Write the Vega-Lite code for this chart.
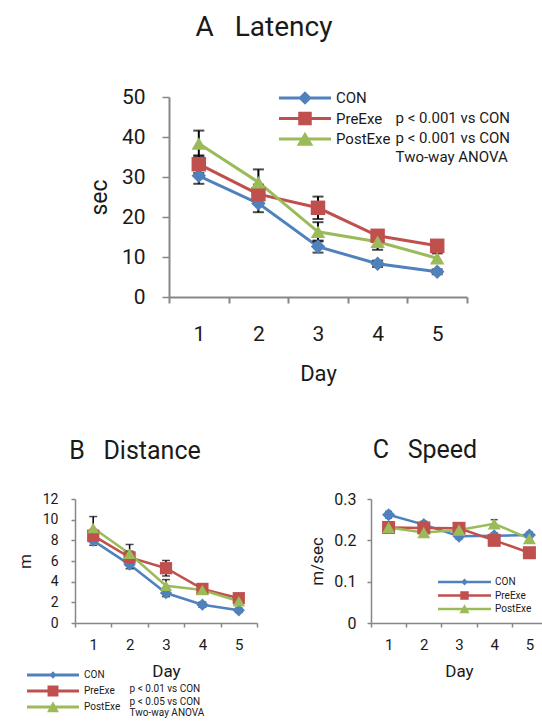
{
  "$schema": "https://vega.github.io/schema/vega-lite/v6.json",
  "padding": {"left": 16, "top": 14, "right": 0, "bottom": 0},
  "config": {
    "font": "Roboto",
    "view": {"stroke": null},
    "axis": {"grid": false, "domainColor": "#878787", "tickColor": "#878787", "labelColor": "#1a1a1a", "titleColor": "#1a1a1a", "titleFontWeight": "normal", "labelOverlap": false},
    "legend": {"labelColor": "#1a1a1a"},
    "title": {"color": "#1a1a1a"},
    "text": {"color": "#1a1a1a"}
  },
  "datasets": {
    "latency": [
      {"series": "CON", "day": "1", "v": 30.3, "err": 2.0},
      {"series": "CON", "day": "2", "v": 23.4, "err": 2.2},
      {"series": "CON", "day": "3", "v": 12.6, "err": 1.5},
      {"series": "CON", "day": "4", "v": 8.3, "err": 0.8},
      {"series": "CON", "day": "5", "v": 6.3, "err": 0.6},
      {"series": "PreExe", "day": "1", "v": 33.2, "err": 2.2},
      {"series": "PreExe", "day": "2", "v": 25.7, "err": 2.4},
      {"series": "PreExe", "day": "3", "v": 22.3, "err": 2.8},
      {"series": "PreExe", "day": "4", "v": 15.3, "err": 1.3},
      {"series": "PreExe", "day": "5", "v": 12.8, "err": 1.0},
      {"series": "PostExe", "day": "1", "v": 38.4, "err": 3.2},
      {"series": "PostExe", "day": "2", "v": 28.7, "err": 3.2},
      {"series": "PostExe", "day": "3", "v": 16.3, "err": 2.4},
      {"series": "PostExe", "day": "4", "v": 13.8, "err": 2.0},
      {"series": "PostExe", "day": "5", "v": 9.7, "err": 1.2}
    ],
    "latencyNotes": [
      {"day": "4", "y": 44.8, "t": "p < 0.001 vs CON"},
      {"day": "4", "y": 39.8, "t": "p < 0.001 vs CON"},
      {"day": "4", "y": 35, "t": "Two-way ANOVA"}
    ],
    "distance": [
      {"series": "CON", "day": "1", "v": 7.97, "err": 0.45},
      {"series": "CON", "day": "2", "v": 5.65, "err": 0.4},
      {"series": "CON", "day": "3", "v": 2.9, "err": 0.35},
      {"series": "CON", "day": "4", "v": 1.77, "err": 0.25},
      {"series": "CON", "day": "5", "v": 1.23, "err": 0.2},
      {"series": "PreExe", "day": "1", "v": 8.45, "err": 0.6},
      {"series": "PreExe", "day": "2", "v": 6.35, "err": 0.6},
      {"series": "PreExe", "day": "3", "v": 5.3, "err": 0.75},
      {"series": "PreExe", "day": "4", "v": 3.3, "err": 0.4},
      {"series": "PreExe", "day": "5", "v": 2.4, "err": 0.35},
      {"series": "PostExe", "day": "1", "v": 9.2, "err": 1.1},
      {"series": "PostExe", "day": "2", "v": 6.7, "err": 0.9},
      {"series": "PostExe", "day": "3", "v": 3.6, "err": 0.6},
      {"series": "PostExe", "day": "4", "v": 3.2, "err": 0.4},
      {"series": "PostExe", "day": "5", "v": 2.1, "err": 0.3}
    ],
    "distanceNotes": [
      {"day": "2", "y": -6.4, "t": "p < 0.01 vs CON"},
      {"day": "2", "y": -7.6, "t": "p < 0.05 vs CON"},
      {"day": "2", "y": -8.75, "t": "Two-way ANOVA"}
    ],
    "speed": [
      {"series": "CON", "day": "1", "v": 0.262, "err": 0.008},
      {"series": "CON", "day": "2", "v": 0.238, "err": 0.008},
      {"series": "CON", "day": "3", "v": 0.21, "err": 0.007},
      {"series": "CON", "day": "4", "v": 0.211, "err": 0.007},
      {"series": "CON", "day": "5", "v": 0.213, "err": 0.007},
      {"series": "PreExe", "day": "1", "v": 0.231, "err": 0.008},
      {"series": "PreExe", "day": "2", "v": 0.23, "err": 0.008},
      {"series": "PreExe", "day": "3", "v": 0.229, "err": 0.008},
      {"series": "PreExe", "day": "4", "v": 0.2, "err": 0.008},
      {"series": "PreExe", "day": "5", "v": 0.17, "err": 0.008},
      {"series": "PostExe", "day": "1", "v": 0.231, "err": 0.008},
      {"series": "PostExe", "day": "2", "v": 0.219, "err": 0.007},
      {"series": "PostExe", "day": "3", "v": 0.225, "err": 0.007},
      {"series": "PostExe", "day": "4", "v": 0.24, "err": 0.01},
      {"series": "PostExe", "day": "5", "v": 0.204, "err": 0.007}
    ]
  },
  "resolve": {"scale": {"color": "independent", "shape": "independent"}, "legend": {"color": "independent"}},
  "spacing": 54,
  "vconcat": [
    {
      "hconcat": [
        {"width": 84, "height": 10, "data": {"values": []}, "mark": {"type": "text", "text": ""}, "encoding": {}},
        {
          "width": 298, "height": 200,
          "title": {"text": "A\u00a0\u00a0\u00a0Latency", "fontSize": 28, "fontWeight": "normal", "frame": "group", "anchor": "middle", "baseline": "alphabetic", "offset": 22, "dx": -54},
          "data": {"name": "latency"},
          "encoding": {
            "x": {"field": "day", "type": "ordinal", "title": "Day", "scale": {"type": "band", "paddingInner": 0, "paddingOuter": 0},
              "axis": {"labelAngle": 0, "tickBand": "extent", "domainWidth": 2, "tickWidth": 2, "tickSize": 6, "labelFontSize": 21, "labelPadding": 20, "titleFontSize": 22, "titlePadding": 19}},
            "y": {"field": "v", "type": "quantitative", "title": "sec", "scale": {"domain": [0, 50]},
              "axis": {"values": [0, 10, 20, 30, 40, 50], "labelOverlap": false, "domainWidth": 2, "tickWidth": 1.5, "tickSize": 7, "labelFontSize": 21, "labelPadding": 17, "titleFontSize": 23, "titlePadding": 10}}
          },
          "layer": [
            {
              "mark": {"type": "line", "strokeWidth": 3},
              "encoding": {
                "color": {"field": "series", "type": "nominal", "scale": {"domain": ["CON", "PreExe", "PostExe"], "range": ["#4f81bd", "#c0504d", "#9bbb59"]},
                  "legend": {"orient": "none", "legendX": 110, "legendY": -7, "title": null, "symbolSize": 2704, "clipHeight": 16, "labelFontSize": 15, "labelOffset": 5, "rowPadding": 4.5,
                    "encoding": {"symbols": {
                      "shape": {"value": {"expr": "datum.value === 'CON' ? 'M-1,-0.06H1V0.06H-1Z M0,-0.26L0.26,0L0,0.26L-0.26,0Z' : datum.value === 'PreExe' ? 'M-1,-0.06H1V0.06H-1Z M-0.26,-0.26H0.26V0.26H-0.26Z' : 'M-1,-0.06H1V0.06H-1Z M0,-0.28L0.32,0.26L-0.32,0.26Z'"}},
                      "size": {"value": 2704},
                      "strokeWidth": {"value": 0}, "opacity": {"value": 1}, "fillOpacity": {"value": 1}}}}}
              }
            },
            {
              "mark": {"type": "errorbar", "color": "black", "thickness": 2, "ticks": {"size": 11, "thickness": 2}},
              "encoding": {"yError": {"field": "err"}}
            },
            {
              "mark": {"type": "point", "filled": true, "opacity": 1, "size": 210},
              "encoding": {
                "color": {"field": "series", "type": "nominal",
                  "legend": {"orient": "none", "legendX": 110, "legendY": -7, "title": null, "symbolSize": 2704, "clipHeight": 16, "labelFontSize": 15, "labelOffset": 5, "rowPadding": 4.5,
                    "encoding": {"symbols": {
                      "shape": {"value": {"expr": "datum.value === 'CON' ? 'M-1,-0.06H1V0.06H-1Z M0,-0.26L0.26,0L0,0.26L-0.26,0Z' : datum.value === 'PreExe' ? 'M-1,-0.06H1V0.06H-1Z M-0.26,-0.26H0.26V0.26H-0.26Z' : 'M-1,-0.06H1V0.06H-1Z M0,-0.28L0.32,0.26L-0.32,0.26Z'"}},
                      "size": {"value": 2704},
                      "strokeWidth": {"value": 0}, "opacity": {"value": 1}, "fillOpacity": {"value": 1}}}}},
                "shape": {"field": "series", "type": "nominal", "scale": {"range": ["diamond", "triangle-up", "square"]}, "legend": null}
              }
            },
            {
              "data": {"name": "latencyNotes"},
              "mark": {"type": "text", "align": "left", "baseline": "middle", "dx": 18, "fontSize": 15},
              "encoding": {
                "y": {"field": "y", "type": "quantitative", "title": "sec"},
                "text": {"field": "t"}
              }
            }
          ]
        }
      ],
      "spacing": 10,
      "bounds": "flush",
      "resolve": {"scale": {"color": "independent", "shape": "independent"}, "legend": {"color": "independent"}}
    },
    {
      "hconcat": [
        {
          "width": 182, "height": 124,
          "title": {"text": "B\u00a0\u00a0\u00a0Distance", "fontSize": 25, "fontWeight": "normal", "frame": "group", "anchor": "middle", "baseline": "alphabetic", "offset": 8, "dx": -31},
          "data": {"name": "distance"},
          "encoding": {
            "x": {"field": "day", "type": "ordinal", "title": "Day", "scale": {"type": "band", "paddingInner": 0, "paddingOuter": 0},
              "axis": {"labelAngle": 0, "tickBand": "extent", "domainWidth": 1.5, "tickWidth": 1.5, "tickSize": 4, "labelFontSize": 15, "labelPadding": 10, "titleFontSize": 17, "titlePadding": 11}},
            "y": {"field": "v", "type": "quantitative", "title": "m", "scale": {"domain": [0, 12]},
              "axis": {"values": [0, 2, 4, 6, 8, 10, 12], "labelOverlap": false, "domainWidth": 1.5, "tickWidth": 1.5, "tickSize": 4, "labelFontSize": 14, "labelPadding": 13, "titleFontSize": 17, "titlePadding": 8}}
          },
          "layer": [
            {
              "mark": {"type": "line", "strokeWidth": 2.5},
              "encoding": {
                "color": {"field": "series", "type": "nominal", "scale": {"domain": ["CON", "PreExe", "PostExe"], "range": ["#4f81bd", "#c0504d", "#9bbb59"]},
                  "legend": {"orient": "none", "legendX": -48, "legendY": 169.5, "title": null, "symbolSize": 2704, "clipHeight": 13, "labelFontSize": 10, "labelOffset": 5, "rowPadding": 3,
                    "encoding": {"symbols": {
                      "shape": {"value": {"expr": "datum.value === 'CON' ? 'M-1,-0.055H1V0.055H-1Z M0,-0.14L0.14,0L0,0.14L-0.14,0Z' : datum.value === 'PreExe' ? 'M-1,-0.055H1V0.055H-1Z M-0.21,-0.21H0.21V0.21H-0.21Z' : 'M-1,-0.055H1V0.055H-1Z M0,-0.22L0.23,0.2L-0.23,0.2Z'"}},
                      "size": {"value": 2704},
                      "strokeWidth": {"value": 0}, "opacity": {"value": 1}, "fillOpacity": {"value": 1}}}}}
              }
            },
            {
              "mark": {"type": "errorbar", "color": "black", "thickness": 1.5, "ticks": {"size": 8, "thickness": 1.5}},
              "encoding": {"yError": {"field": "err"}}
            },
            {
              "mark": {"type": "point", "filled": true, "opacity": 1, "size": 150},
              "encoding": {
                "color": {"field": "series", "type": "nominal",
                  "legend": {"orient": "none", "legendX": -48, "legendY": 169.5, "title": null, "symbolSize": 2704, "clipHeight": 13, "labelFontSize": 10, "labelOffset": 5, "rowPadding": 3,
                    "encoding": {"symbols": {
                      "shape": {"value": {"expr": "datum.value === 'CON' ? 'M-1,-0.055H1V0.055H-1Z M0,-0.14L0.14,0L0,0.14L-0.14,0Z' : datum.value === 'PreExe' ? 'M-1,-0.055H1V0.055H-1Z M-0.21,-0.21H0.21V0.21H-0.21Z' : 'M-1,-0.055H1V0.055H-1Z M0,-0.22L0.23,0.2L-0.23,0.2Z'"}},
                      "size": {"value": 2704},
                      "strokeWidth": {"value": 0}, "opacity": {"value": 1}, "fillOpacity": {"value": 1}}}}},
                "shape": {"field": "series", "type": "nominal", "scale": {"range": ["diamond", "triangle-up", "square"]}, "legend": null}
              }
            },
            {
              "data": {"name": "distanceNotes"},
              "mark": {"type": "text", "align": "left", "baseline": "middle", "dx": 0, "fontSize": 10},
              "encoding": {
                "y": {"field": "y", "type": "quantitative", "title": "m"},
                "text": {"field": "t"}
              }
            }
          ]
        },
        {
          "width": 176, "height": 124,
          "title": {"text": "C\u00a0\u00a0\u00a0Speed", "fontSize": 25, "fontWeight": "normal", "frame": "group", "anchor": "middle", "baseline": "alphabetic", "offset": 8, "dx": -34},
          "data": {"name": "speed"},
          "encoding": {
            "x": {"field": "day", "type": "ordinal", "title": "Day", "scale": {"type": "band", "paddingInner": 0, "paddingOuter": 0},
              "axis": {"labelAngle": 0, "tickBand": "extent", "domainWidth": 1.5, "tickWidth": 1.5, "tickSize": 4, "labelFontSize": 15, "labelPadding": 10, "titleFontSize": 17, "titlePadding": 11}},
            "y": {"field": "v", "type": "quantitative", "title": "m/sec", "scale": {"domain": [0, 0.3]},
              "axis": {"values": [0, 0.1, 0.2, 0.3], "labelOverlap": false, "format": "~g", "domainWidth": 1.5, "tickWidth": 1.5, "tickSize": 4, "labelFontSize": 16, "labelPadding": 11, "titleFontSize": 17, "titlePadding": 7}}
          },
          "layer": [
            {
              "mark": {"type": "line", "strokeWidth": 2.5},
              "encoding": {
                "color": {"field": "series", "type": "nominal", "scale": {"domain": ["CON", "PreExe", "PostExe"], "range": ["#4f81bd", "#c0504d", "#9bbb59"]},
                  "legend": {"orient": "none", "legendX": 67, "legendY": 77.5, "title": null, "symbolSize": 2809, "clipHeight": 11, "labelFontSize": 10, "labelOffset": 4, "rowPadding": 2.5,
                    "encoding": {"symbols": {
                      "shape": {"value": {"expr": "datum.value === 'CON' ? 'M-1,-0.047H1V0.047H-1Z M0,-0.13L0.13,0L0,0.13L-0.13,0Z' : datum.value === 'PreExe' ? 'M-1,-0.047H1V0.047H-1Z M-0.16,-0.16H0.16V0.16H-0.16Z' : 'M-1,-0.047H1V0.047H-1Z M0,-0.18L0.19,0.16L-0.19,0.16Z'"}},
                      "size": {"value": 2809},
                      "strokeWidth": {"value": 0}, "opacity": {"value": 1}, "fillOpacity": {"value": 1}}}}}
              }
            },
            {
              "mark": {"type": "errorbar", "color": "black", "thickness": 1.5, "ticks": {"size": 7, "thickness": 1.5}},
              "encoding": {"yError": {"field": "err"}}
            },
            {
              "mark": {"type": "point", "filled": true, "opacity": 1, "size": 170},
              "encoding": {
                "color": {"field": "series", "type": "nominal",
                  "legend": {"orient": "none", "legendX": 67, "legendY": 77.5, "title": null, "symbolSize": 2809, "clipHeight": 11, "labelFontSize": 10, "labelOffset": 4, "rowPadding": 2.5,
                    "encoding": {"symbols": {
                      "shape": {"value": {"expr": "datum.value === 'CON' ? 'M-1,-0.047H1V0.047H-1Z M0,-0.13L0.13,0L0,0.13L-0.13,0Z' : datum.value === 'PreExe' ? 'M-1,-0.047H1V0.047H-1Z M-0.16,-0.16H0.16V0.16H-0.16Z' : 'M-1,-0.047H1V0.047H-1Z M0,-0.18L0.19,0.16L-0.19,0.16Z'"}},
                      "size": {"value": 2809},
                      "strokeWidth": {"value": 0}, "opacity": {"value": 1}, "fillOpacity": {"value": 1}}}}},
                "shape": {"field": "series", "type": "nominal", "scale": {"range": ["diamond", "triangle-up", "square"]}, "legend": null}
              }
            }
          ]
        }
      ],
      "spacing": 114,
      "bounds": "flush",
      "resolve": {"scale": {"color": "independent", "shape": "independent"}, "legend": {"color": "independent"}}
    }
  ]
}
